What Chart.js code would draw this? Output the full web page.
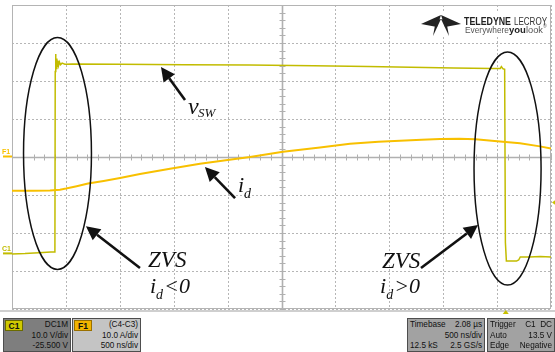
<!DOCTYPE html>
<html>
<head>
<meta charset="utf-8">
<script src="https://cdn.jsdelivr.net/npm/chart.js@4.4.0/dist/chart.umd.min.js"></script>
<style>
  html, body { margin: 0; padding: 0; background: #fff; }
  #wrap { position: relative; width: 555px; height: 352px; overflow: hidden; }
  #scope { position: absolute; left: 0; top: 0; }
  .box { position: absolute; top: 318px; height: 34px; box-sizing: border-box;
         border: 1px solid #4e4e4e; font: 8.2px "Liberation Sans", Arial, sans-serif; color: #111; }
  .t { position: absolute; line-height: 10px; white-space: nowrap; }
  .r1 { top: 1px; } .r2 { top: 12px; } .r3 { top: 22px; }
  .L { left: 2px; } .R { right: 2px; }
  .badge { position: absolute; left: 1px; top: 1px; width: 16px; height: 9px; line-height: 9px;
           font: bold 8.5px "Liberation Sans", Arial, sans-serif; text-align: center; color: #111;
           border: 1px solid #6b6b00; box-sizing: content-box; }
</style>
</head>
<body>
<div id="wrap">
  <canvas id="scope" width="555" height="352"></canvas>

  <div class="box" style="left:3px;width:68px;background:#7e7e7e;">
    <span class="badge" style="background:#d0c900;">C1</span>
    <span class="t r1 R">DC1M</span>
    <span class="t r2 R">10.0 V/div</span>
    <span class="t r3 R">-25.500 V</span>
  </div>
  <div class="box" style="left:72px;width:69px;background:#c4c4c4;">
    <span class="badge" style="background:#f2b400;border-color:#9a7000;">F1</span>
    <span class="t r1 R">(C4-C3)</span>
    <span class="t r2 R">10.0 A/div</span>
    <span class="t r3 R">500 ns/div</span>
  </div>
  <div class="box" style="left:407px;width:78px;background:#a2a2a2;">
    <span class="t r1 L">Timebase</span><span class="t r1 R">2.08 µs</span>
    <span class="t r2 R">500 ns/div</span>
    <span class="t r3 L">12.5 kS</span><span class="t r3 R">2.5 GS/s</span>
  </div>
  <div class="box" style="left:487px;width:68px;background:#a2a2a2;">
    <span class="t r1 L">Trigger</span><span class="t r1 R">C1&nbsp; DC</span>
    <span class="t r2 L">Auto</span><span class="t r2 R">13.5 V</span>
    <span class="t r3 L">Edge</span><span class="t r3 R">Negative</span>
  </div>
</div>

<script>
// Screen divisions: 500 ns/div horizontally, 10 A/div (F1) vertically
const timeDivs = [0, 500, 1000, 1500, 2000, 2500, 3000, 3500, 4000, 4500, 5000];
const ampDivs = [-40, -30, -20, -10, 0, 10, 20, 30, 40];

// C1: switch-node voltage v_SW (ns, V)
const vswTime = [0, 120, 250, 360, 398, 401, 404, 408, 412, 416, 421, 426, 432, 440, 450, 465, 490,
                 560, 1000, 1600, 2200, 2800, 3300, 3700, 4100, 4450, 4530, 4540, 4555, 4570,
                 4577, 4586, 4600, 4680, 4700, 4715, 4800, 4900, 5000];
const vswVolts = [0.0, 0.1, 0.3, 0.5, 0.5, 48.0, 52.6, 50.0, 48.8, 51.4, 49.4, 50.9, 49.6, 50.5, 49.8,
                  50.2, 49.9, 50.0, 49.9, 49.8, 49.7, 49.5, 49.3, 49.1, 48.9, 48.8, 48.8, 49.3, 48.7,
                  48.6, 3.0, -1.9, -1.9, -1.9, -1.6, -0.8, -0.8, -0.7, -0.8];

// F1 = C4 - C3: device current i_d (ns, A)
const idTime = [0, 200, 352, 445, 501, 600, 705, 850, 1002, 1187, 1466, 1744, 2000, 2208, 2514, 2857,
                3135, 3400, 3599, 3800, 3970, 4150, 4300, 4527, 4712, 4898, 5000];
const idAmps = [-8.9, -8.9, -8.8, -8.6, -8.3, -7.7, -7.0, -6.3, -5.5, -4.5, -3.1, -1.8, -0.8, 0.0, 1.4,
                2.5, 3.5, 4.0, 4.3, 4.55, 4.72, 4.78, 4.7, 4.1, 3.6, 2.8, 2.2];

// Channel settings
const c1Offset = 25.5;      // V at screen centre (offset -25.500 V)
const c1VoltsPerDiv = 10;
const triggerTime = 4580;   // ns
const triggerLevel = 13.5;  // V

const C1_COLOR = '#c2bc00';
const F1_COLOR = '#f8c000';

function line(ctx, x1, y1, x2, y2) {
  ctx.beginPath(); ctx.moveTo(x1, y1); ctx.lineTo(x2, y2); ctx.stroke();
}

// Graticule: dotted divisions, solid centre cross with minor ticks, frame, logo
const graticule = {
  id: 'graticule',
  beforeDatasetsDraw(chart) {
    const { ctx, chartArea: a, scales } = chart;
    const x = scales.x, yI = scales.yI;
    ctx.save();
    ctx.strokeStyle = '#b6b6b6';
    ctx.lineWidth = 1;
    ctx.setLineDash([2, 2]);
    timeDivs.forEach(t => {
      const px = Math.round(x.getPixelForValue(t)) + 0.5;
      line(ctx, px, a.top, px, a.bottom);
    });
    ampDivs.forEach(v => {
      const py = Math.round(yI.getPixelForValue(v)) + 0.5;
      line(ctx, a.left, py, a.right, py);
    });
    ctx.setLineDash([]);

    // centre cross
    const cx = Math.round(x.getPixelForValue(2500)) + 0.5;
    const cy = Math.round(yI.getPixelForValue(0)) + 0.5;
    ctx.strokeStyle = '#b0b0b0';
    ctx.lineWidth = 1.6;
    line(ctx, a.left, cy, a.right, cy);
    line(ctx, cx, a.top, cx, a.bottom);
    ctx.lineWidth = 1;
    for (let t = 0; t <= 5000; t += 100) {
      const px = Math.round(x.getPixelForValue(t)) + 0.5;
      line(ctx, px, cy - 3, px, cy + 3);
    }
    for (let v = -40; v <= 40; v += 2) {
      const py = Math.round(yI.getPixelForValue(v)) + 0.5;
      line(ctx, cx - 3, py, cx + 3, py);
    }

    // frame
    ctx.strokeStyle = '#b4b4b4';
    ctx.lineWidth = 1;
    ctx.strokeRect(a.left + 0.5, a.top + 0.5, a.right - a.left - 1, a.bottom - a.top - 1);
    ctx.strokeStyle = '#cfcfcf';
    ctx.lineWidth = 2;
    line(ctx, a.left - 12, a.bottom + 2, a.right + 4, a.bottom + 2);

    // Teledyne LeCroy logo
    ctx.fillStyle = '#fff';
    ctx.fillRect(418, 12, 132, 24);
    ctx.fillStyle = '#222';
    ctx.beginPath();
    ctx.moveTo(421, 24); ctx.lineTo(441, 15); ctx.lineTo(437, 27); ctx.closePath(); ctx.fill();
    ctx.beginPath();
    ctx.moveTo(461, 24); ctx.lineTo(441, 15); ctx.lineTo(445, 27); ctx.closePath(); ctx.fill();
    ctx.beginPath();
    ctx.moveTo(433, 36); ctx.lineTo(436, 20); ctx.lineTo(441, 19); ctx.closePath(); ctx.fill();
    ctx.beginPath();
    ctx.moveTo(449, 36); ctx.lineTo(446, 20); ctx.lineTo(441, 19); ctx.closePath(); ctx.fill();
    ctx.textBaseline = 'alphabetic';
    ctx.textAlign = 'left';
    ctx.font = 'bold 10.5px "Liberation Sans", Arial, sans-serif';
    ctx.fillText('TELEDYNE', 464, 24.5, 47);
    ctx.fillStyle = '#333';
    ctx.font = '10.5px "Liberation Sans", Arial, sans-serif';
    ctx.fillText('LECROY', 514, 24.5, 33);
    ctx.fillStyle = '#555';
    ctx.font = '9.5px "Liberation Sans", Arial, sans-serif';
    ctx.fillText('Everywhere', 465, 33, 44);
    ctx.fillStyle = '#222';
    ctx.font = 'bold 9.5px "Liberation Sans", Arial, sans-serif';
    ctx.fillText('you', 509, 33, 17);
    ctx.fillStyle = '#555';
    ctx.font = '9.5px "Liberation Sans", Arial, sans-serif';
    ctx.fillText('look', 526, 33, 17);
    ctx.font = '5px "Liberation Sans", Arial, sans-serif';
    ctx.fillText('®', 543, 28);
    ctx.restore();
  }
};

function arrow(ctx, x1, y1, x2, y2) {
  const ang = Math.atan2(y2 - y1, x2 - x1);
  const len = 14, half = 7;
  const bx = x2 - len * Math.cos(ang), by = y2 - len * Math.sin(ang);
  ctx.lineWidth = 2.6;
  line(ctx, x1, y1, bx, by);
  ctx.beginPath();
  ctx.moveTo(x2, y2);
  ctx.lineTo(bx + half * Math.sin(ang), by - half * Math.cos(ang));
  ctx.lineTo(bx - half * Math.sin(ang), by + half * Math.cos(ang));
  ctx.closePath();
  ctx.fill();
}

function subLabel(ctx, x, y, main, sub, tail) {
  ctx.font = 'italic 22px "Liberation Serif", "DejaVu Serif", serif';
  ctx.fillText(main, x, y);
  let w = ctx.measureText(main).width;
  ctx.font = 'italic 14px "Liberation Serif", "DejaVu Serif", serif';
  ctx.fillText(sub, x + w, y + 6);
  w += ctx.measureText(sub).width + 1;
  if (tail) {
    ctx.font = 'italic 22px "Liberation Serif", "DejaVu Serif", serif';
    ctx.fillText(tail, x + w, y);
  }
}

// Channel markers, trigger markers and the ZVS annotations
const annotations = {
  id: 'annotations',
  afterDatasetsDraw(chart) {
    const { ctx, chartArea: a, scales } = chart;
    const X = t => scales.x.getPixelForValue(t);
    const YI = v => scales.yI.getPixelForValue(v);
    const YV = v => scales.yV.getPixelForValue(v);
    ctx.save();

    // ground markers on the left edge
    ctx.font = 'bold 7px "Liberation Sans", Arial, sans-serif';
    ctx.textBaseline = 'alphabetic';
    ctx.fillStyle = F1_COLOR;
    ctx.fillText('F1', 2, YI(0) - 3);
    ctx.fillRect(3, YI(0) - 1.5, a.left - 3, 2);
    ctx.fillStyle = C1_COLOR;
    ctx.fillText('C1', 2, YV(0) - 3);
    ctx.fillRect(3, YV(0) - 1.5, a.left - 3, 2);

    // trigger level (right edge) and trigger position (bottom edge)
    ctx.fillStyle = '#c8c000';
    const ty = YV(triggerLevel);
    ctx.beginPath();
    ctx.moveTo(a.right + 1, ty); ctx.lineTo(a.right + 5, ty - 3); ctx.lineTo(a.right + 5, ty + 3);
    ctx.closePath(); ctx.fill();
    const tx = X(triggerTime);
    ctx.beginPath();
    ctx.moveTo(tx, a.bottom + 1); ctx.lineTo(tx - 3, a.bottom + 5); ctx.lineTo(tx + 3, a.bottom + 5);
    ctx.closePath(); ctx.fill();

    // ellipses around the two switching transitions
    ctx.strokeStyle = '#111';
    ctx.fillStyle = '#111';
    ctx.lineWidth = 1.5;
    [[422, 0.92, 315, 30.5], [4597, -3.03, 311, 30.66]].forEach(([t, v, rt, rv]) => {
      const cx = X(t), cy = YI(v);
      const rx = X(t + rt) - cx, ry = YI(v - rv) - cy;
      ctx.beginPath();
      ctx.ellipse(cx, cy, rx, ry, 0, 0, Math.PI * 2);
      ctx.stroke();
    });

    // arrows (tail -> tip)
    [[1605, 15.0, 1382, 23.7],
     [2069, -10.8, 1790, -2.63],
     [1187, -29.2, 686, -18.2],
     [3794, -29.2, 4323, -17.9]].forEach(([t1, v1, t2, v2]) => {
      arrow(ctx, X(t1), YI(v1), X(t2), YI(v2));
    });

    // labels
    ctx.fillStyle = '#111';
    ctx.font = 'italic 24px "Liberation Serif", "DejaVu Serif", serif';
    ctx.fillText('v', X(1633), YI(11.3));
    ctx.font = 'italic 13px "Liberation Serif", "DejaVu Serif", serif';
    ctx.fillText('SW', X(1633) + 10, YI(11.3) + 3);

    subLabel(ctx, X(2096), YI(-9.2), 'i', 'd', '');

    ctx.font = 'italic 23px "Liberation Serif", "DejaVu Serif", serif';
    ctx.fillText('ZVS', X(1262), YI(-28.9));
    subLabel(ctx, X(1280), YI(-35.8), 'i', 'd', '<0');

    ctx.font = 'italic 23px "Liberation Serif", "DejaVu Serif", serif';
    ctx.fillText('ZVS', X(3432), YI(-29.2));
    subLabel(ctx, X(3414), YI(-35.8), 'i', 'd', '>0');

    ctx.restore();
  }
};

new Chart(document.getElementById('scope'), {
  type: 'line',
  data: {
    datasets: [
      {
        label: 'F1',
        data: idTime.map((t, i) => ({ x: t, y: idAmps[i] })),
        yAxisID: 'yI',
        borderColor: F1_COLOR,
        borderWidth: 2,
        pointRadius: 0,
        tension: 0
      },
      {
        label: 'C1',
        data: vswTime.map((t, i) => ({ x: t, y: vswVolts[i] })),
        yAxisID: 'yV',
        borderColor: C1_COLOR,
        borderWidth: 1.5,
        pointRadius: 0,
        tension: 0
      }
    ]
  },
  options: {
    responsive: false,
    animation: false,
    events: [],
    layout: { padding: { left: 12, top: 5, right: 4, bottom: 43 } },
    plugins: { legend: { display: false }, tooltip: { enabled: false } },
    scales: {
      x: { type: 'linear', min: timeDivs[0], max: timeDivs[timeDivs.length - 1], display: false },
      yV: { type: 'linear', min: c1Offset - 4 * c1VoltsPerDiv, max: c1Offset + 4 * c1VoltsPerDiv, display: false },
      yI: { type: 'linear', min: ampDivs[0], max: ampDivs[ampDivs.length - 1], display: false }
    }
  },
  plugins: [graticule, annotations]
});
</script>
</body>
</html>
